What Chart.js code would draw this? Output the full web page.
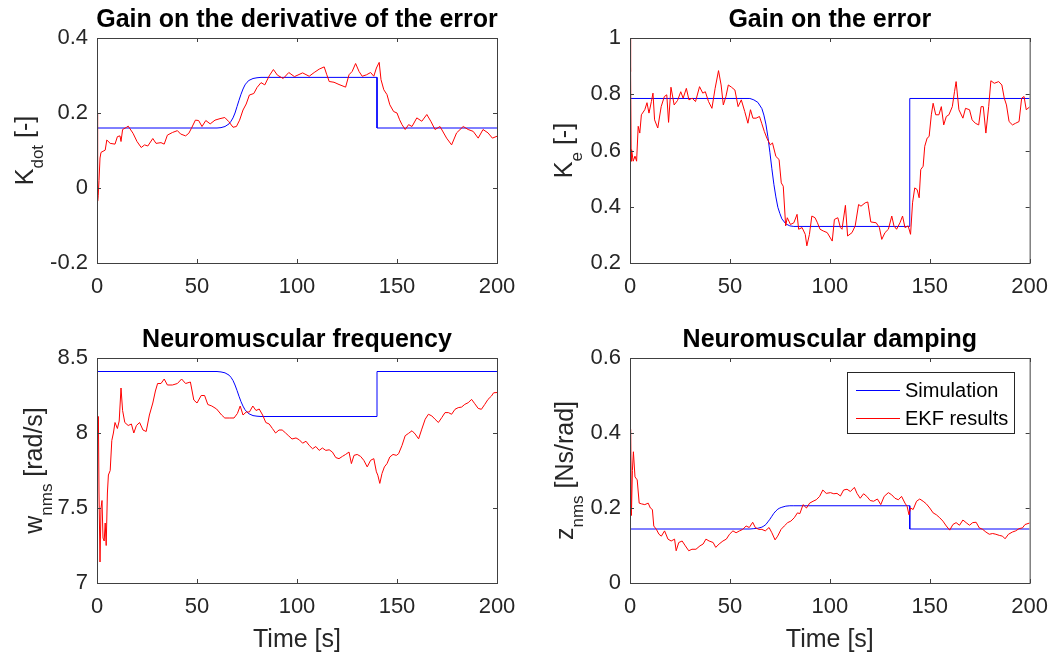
<!DOCTYPE html>
<html>
<head>
<meta charset="utf-8">
<title>EKF gain estimates</title>
<script src="https://cdn.jsdelivr.net/npm/chart.js@4.4.1/dist/chart.umd.min.js"></script>
<style>
  html, body { margin:0; padding:0; background:#fff; }
  #fig { position:relative; width:1059px; height:657px; overflow:hidden; background:#fff; }
  #fig canvas { position:absolute; }
</style>
</head>
<body>
<div id="fig">
  <canvas id="c-kdot" width="530" height="320" style="left:0;top:0;width:530px;height:320px"></canvas>
  <canvas id="c-ke"   width="529" height="320" style="left:530px;top:0;width:529px;height:320px"></canvas>
  <canvas id="c-wnms" width="530" height="337" style="left:0;top:320px;width:530px;height:337px"></canvas>
  <canvas id="c-znms" width="529" height="337" style="left:530px;top:320px;width:529px;height:337px"></canvas>
</div>
<script>
// ─── Data ─────────────────────────────────────────────────────

const timeTicks  = [0, 50, 100, 150, 200];
const timeLabels = ['0', '50', '100', '150', '200'];

// Gain on the derivative of the error
const kdotTicks  = [-0.2, 0, 0.2, 0.4];
const kdotLabels = ['-0.2', '0', '0.2', '0.4'];
const kdotSimT = [0, 60, 62, 64, 66, 67, 68, 69, 70, 71, 72, 73, 74, 75, 76, 78, 80, 82, 140, 140, 200];
const kdotSimV = [0.16, 0.16, 0.161, 0.164, 0.171, 0.178, 0.187, 0.2, 0.217, 0.234, 0.25, 0.264, 0.275, 0.282, 0.287, 0.292, 0.294, 0.295, 0.295, 0.16, 0.16];
const kdotEkfT = [0, 0.3, 0.6, 1, 1.5, 2, 4.1, 4.9, 6.6, 9, 10.2, 11.5, 12, 12.8, 14.8, 15.6, 18, 20, 22.1, 23.8,
  25.4, 27.9, 29.5, 32, 33.6, 35.2, 37.7, 40.2, 41.8, 44.3, 45.9, 47.2, 49.2, 50.8, 52.5, 54.4, 56.6, 59, 61.5, 63.9,
  65.9, 68, 69.7, 71.3, 73, 74.6, 76.2, 78.4, 80, 82, 83.9, 86.1, 88.2, 90.2, 93.1, 95.9, 98.7, 102.8, 106.1, 108.6,
  111.1, 113.6, 114.9, 116.1, 118.5, 121, 124.3, 126, 127.6, 129.3, 131, 132.6, 134.8, 136.8, 138.4, 139.7, 141.1, 142, 143.4, 145,
  146.4, 148.3, 150, 151.3, 152.5, 154.1, 155.8, 157.5, 159.9, 162.4, 164.9, 166.9, 169, 171.5, 174.8, 177.3, 179.8, 183.1, 185.6, 188.1,
  190.6, 193, 195.5, 197.7, 200];
const kdotEkfV = [0.2, -0.035, -0.02, 0.02, 0.08, 0.095, 0.101, 0.128, 0.119, 0.117, 0.137, 0.139, 0.124, 0.156, 0.162, 0.165, 0.146, 0.124, 0.108, 0.115,
  0.112, 0.132, 0.119, 0.121, 0.117, 0.141, 0.148, 0.153, 0.144, 0.139, 0.146, 0.159, 0.181, 0.18, 0.164, 0.18, 0.171, 0.181, 0.185, 0.188,
  0.177, 0.162, 0.164, 0.181, 0.208, 0.224, 0.248, 0.252, 0.268, 0.281, 0.275, 0.299, 0.316, 0.301, 0.292, 0.308, 0.297, 0.307, 0.298, 0.308,
  0.317, 0.323, 0.302, 0.284, 0.282, 0.276, 0.269, 0.302, 0.311, 0.332, 0.311, 0.298, 0.302, 0.308, 0.298, 0.32, 0.335, 0.289, 0.262, 0.249,
  0.222, 0.204, 0.2, 0.182, 0.169, 0.156, 0.169, 0.164, 0.187, 0.178, 0.196, 0.178, 0.156, 0.164, 0.133, 0.115, 0.147, 0.164, 0.156, 0.151,
  0.133, 0.156, 0.147, 0.133, 0.138];

// Gain on the error
const keTicks  = [0.2, 0.4, 0.6, 0.8, 1];
const keLabels = ['0.2', '0.4', '0.6', '0.8', '1'];
const keSimT = [0, 60, 62, 64, 66, 67, 68, 69, 70, 71, 72, 73, 74, 75, 76, 78, 80, 82, 140, 140, 200];
const keSimV = [0.785, 0.785, 0.78, 0.771, 0.749, 0.726, 0.694, 0.649, 0.594, 0.535, 0.48, 0.435, 0.398, 0.376, 0.357, 0.339, 0.332, 0.33, 0.33, 0.785, 0.785];
const keEkfT = [0, 0.3, 0.6, 0.8, 1.6, 2.5, 3.3, 4.1, 4.9, 5.7, 7.4, 8.5, 9.5, 10.7, 11.5, 12.3, 13.9, 15.6, 17.2, 18.4,
  19.3, 20.5, 22.1, 23.8, 25.4, 26.6, 28.2, 29.5, 31.1, 32.8, 34.8, 36.4, 37.7, 39.3, 41, 42.6, 44.3, 45.6, 46.7, 48,
  49.2, 50.8, 52.5, 54.1, 55.7, 57.4, 59, 60.3, 61.5, 63.1, 64.8, 65.9, 67.2, 68.5, 70.2, 71.3, 73, 74.6, 75.7, 76.7,
  77.9, 78.7, 80.3, 82, 83.6, 84.4, 86.1, 87.7, 88.5, 89.8, 91, 92.6, 93.8, 95.1, 96.7, 98.7, 101.2, 102.3, 104, 105.3,
  106.1, 107.8, 108.9, 111.1, 112.7, 114.4, 115.6, 117.7, 119, 120.5, 123.2, 124.8, 126, 127.6, 129.3, 131, 132.1, 133.4, 135.1, 136.4,
  137.6, 139.2, 140.4, 141.4, 142.5, 143.7, 144.7, 145.5, 146.7, 147.5, 148.7, 149.7, 150.8, 151.7, 153, 154.6, 155.8, 157, 158.3, 159.6,
  161.3, 162.4, 163.2, 164.6, 166.6, 167.9, 169.9, 171.2, 172.8, 174.5, 175.7, 176.8, 178.1, 179.5, 180.6, 182.3, 184.5, 186.1, 187.3, 188.4,
  189.7, 191.4, 193, 194.7, 196, 197.2, 198.3, 200];
const keEkfV = [1.0, 0.88, 0.562, 0.603, 0.562, 0.58, 0.562, 0.686, 0.662, 0.727, 0.745, 0.77, 0.733, 0.774, 0.804, 0.709, 0.68, 0.756, 0.792, 0.798,
  0.7, 0.825, 0.762, 0.778, 0.809, 0.786, 0.821, 0.78, 0.786, 0.774, 0.827, 0.804, 0.809, 0.774, 0.75, 0.821, 0.884, 0.833, 0.762, 0.792,
  0.833, 0.825, 0.815, 0.756, 0.78, 0.739, 0.697, 0.745, 0.715, 0.715, 0.721, 0.697, 0.668, 0.644, 0.62, 0.627, 0.579, 0.568, 0.485, 0.473,
  0.332, 0.361, 0.337, 0.343, 0.373, 0.32, 0.326, 0.302, 0.261, 0.302, 0.367, 0.361, 0.343, 0.32, 0.314, 0.308, 0.278, 0.355, 0.361, 0.326,
  0.32, 0.405, 0.296, 0.308, 0.332, 0.408, 0.402, 0.414, 0.417, 0.346, 0.343, 0.326, 0.284, 0.308, 0.32, 0.367, 0.332, 0.32, 0.343, 0.367,
  0.326, 0.332, 0.302, 0.414, 0.467, 0.461, 0.432, 0.532, 0.544, 0.615, 0.644, 0.65, 0.727, 0.768, 0.727, 0.727, 0.756, 0.691, 0.721, 0.727,
  0.756, 0.809, 0.845, 0.745, 0.715, 0.75, 0.745, 0.709, 0.697, 0.691, 0.756, 0.756, 0.662, 0.756, 0.848, 0.839, 0.845, 0.833, 0.786, 0.762,
  0.703, 0.691, 0.697, 0.703, 0.786, 0.792, 0.745, 0.755];

// Neuromuscular frequency
const wTicks  = [7, 7.5, 8, 8.5];
const wLabels = ['7', '7.5', '8', '8.5'];
const wSimT = [0, 60, 62, 64, 66, 67, 68, 69, 70, 71, 72, 73, 74, 75, 76, 78, 80, 82, 140, 140, 200];
const wSimV = [8.41, 8.41, 8.407, 8.401, 8.386, 8.371, 8.35, 8.32, 8.284, 8.245, 8.209, 8.179, 8.155, 8.14, 8.128, 8.116, 8.112, 8.11, 8.11, 8.41, 8.41];
const wEkfT = [0.3, 0.7, 1, 1.5, 2, 2.5, 3, 3.6, 4.1, 4.6, 5.2, 5.7, 6.6, 7.4, 8.2, 9, 10.2, 11.1, 12, 12.8,
  13.9, 15.6, 17.2, 18.4, 19.7, 21.3, 23, 24.6, 26.2, 27.9, 29.2, 30.3, 32, 33.6, 35.2, 37.7, 40.2, 42.3, 44.3, 46.7,
  48.4, 50, 52.1, 53.8, 55.4, 57.4, 59.8, 62.3, 63.9, 66.4, 68.5, 70.2, 71.6, 73, 74.6, 76.2, 77.9, 79.5, 81.1, 82.8,
  84.4, 86.1, 87.7, 89.3, 91, 92.6, 94.3, 95.9, 97.5, 99.5, 101.2, 102.8, 104.5, 106.1, 107.8, 109.4, 111.1, 112.7, 114.4, 116.1,
  117.7, 119.4, 121, 122.7, 124.3, 126, 127.2, 128.5, 130.1, 131.8, 133.4, 135.1, 136.8, 138.4, 139.7, 140.4, 141.4, 142.5, 143.7, 145,
  146.4, 148, 149.7, 150.8, 152.5, 154.1, 155.8, 157.5, 159.1, 160.8, 162.4, 164.1, 165.7, 167.4, 169, 170.7, 172.4, 174, 175.7, 177.3,
  179, 180.6, 182.3, 183.9, 185.6, 187.3, 188.9, 190.6, 192.2, 193.9, 195.5, 197.2, 198.3, 200];
const wEkfV = [8.0, 8.11, 7.6, 7.14, 7.5, 7.55, 7.3, 7.28, 7.4, 7.25, 7.6, 7.72, 7.75, 7.95, 8.0, 8.07, 8.03, 8.08, 8.3, 8.15,
  8.07, 8.05, 8.06, 8.0, 8.05, 8.07, 8.02, 8.01, 8.12, 8.2, 8.28, 8.33, 8.33, 8.36, 8.32, 8.32, 8.33, 8.36, 8.33, 8.34,
  8.22, 8.2, 8.25, 8.25, 8.19, 8.18, 8.16, 8.12, 8.1, 8.1, 8.1, 8.13, 8.18, 8.12, 8.14, 8.14, 8.18, 8.15, 8.16, 8.12,
  8.07, 8.06, 8.03, 8.0, 8.02, 8.02, 8.0, 7.98, 7.96, 7.967, 7.954, 7.932, 7.945, 7.917, 7.895, 7.91, 7.884, 7.9, 7.884, 7.888,
  7.873, 7.836, 7.829, 7.844, 7.857, 7.873, 7.796, 7.851, 7.857, 7.844, 7.818, 7.774, 7.818, 7.829, 7.741, 7.719, 7.664, 7.73, 7.774, 7.796,
  7.84, 7.857, 7.851, 7.862, 7.917, 7.982, 7.998, 8.015, 7.993, 7.961, 8.026, 8.092, 8.125, 8.114, 8.092, 8.07, 8.103, 8.136, 8.136, 8.125,
  8.158, 8.169, 8.173, 8.191, 8.202, 8.224, 8.195, 8.164, 8.158, 8.191, 8.224, 8.246, 8.268, 8.27];

// Neuromuscular damping
const zTicks  = [0, 0.2, 0.4, 0.6];
const zLabels = ['0', '0.2', '0.4', '0.6'];
const zSimT = [0, 60, 62, 64, 66, 67, 68, 69, 70, 71, 72, 73, 74, 75, 76, 78, 80, 82, 140, 140, 200];
const zSimV = [0.144, 0.144, 0.145, 0.146, 0.149, 0.152, 0.156, 0.163, 0.17, 0.178, 0.186, 0.192, 0.197, 0.2, 0.202, 0.205, 0.206, 0.206, 0.206, 0.144, 0.144];
const zEkfT = [0, 0.3, 0.7, 1.2, 1.7, 2.5, 3.6, 4.6, 5.8, 7.4, 9.1, 10.2, 11.2, 11.9, 13.2, 14.5, 15.7, 17.3, 19, 20.6,
  22.3, 23.1, 24.4, 26.1, 27.7, 29.4, 31, 33, 35, 36.6, 38, 39.6, 41.6, 42.9, 44.6, 46.5, 48.2, 49.8, 51.5, 53.1,
  54.8, 56.4, 58.1, 59.7, 61.4, 62.7, 64.4, 66, 67.7, 69.6, 71, 72.6, 73.9, 75.6, 77.2, 78.9, 80.5, 82.2, 83.8, 85,
  86.6, 88.3, 89.9, 91.6, 93.2, 94.9, 96.5, 98.2, 100.3, 102, 103.6, 105.3, 106.9, 108.6, 110.3, 112.3, 113.6, 115.2, 116.9, 118.5,
  120.2, 121.9, 123.8, 125.5, 127.2, 129.3, 131, 132.6, 134.3, 135.9, 137.6, 138.7, 139.6, 140.4, 141.7, 143.4, 145, 146.7, 148.3, 150,
  151.7, 153.3, 155, 156.6, 158.3, 160, 161.6, 163.2, 164.9, 166.6, 168.2, 169.9, 171.5, 173.2, 174.8, 176.5, 178.1, 179.8, 181.5, 183.1,
  184.8, 186.4, 187.7, 189.4, 191.4, 193, 194.7, 196.4, 197.7, 200];
const zEkfV = [0.3, 0.41, 0.18, 0.3, 0.35, 0.283, 0.275, 0.213, 0.211, 0.209, 0.213, 0.2, 0.196, 0.152, 0.143, 0.13, 0.125, 0.139, 0.117, 0.112,
  0.117, 0.086, 0.108, 0.112, 0.099, 0.086, 0.09, 0.09, 0.099, 0.104, 0.117, 0.112, 0.108, 0.095, 0.104, 0.112, 0.117, 0.13, 0.139, 0.134,
  0.139, 0.143, 0.152, 0.148, 0.162, 0.148, 0.143, 0.143, 0.139, 0.148, 0.134, 0.115, 0.125, 0.143, 0.152, 0.161, 0.165, 0.174, 0.187, 0.185,
  0.209, 0.2, 0.213, 0.218, 0.222, 0.231, 0.248, 0.239, 0.241, 0.238, 0.239, 0.232, 0.248, 0.25, 0.244, 0.255, 0.239, 0.226, 0.238, 0.231,
  0.22, 0.218, 0.224, 0.209, 0.231, 0.241, 0.235, 0.226, 0.222, 0.231, 0.213, 0.204, 0.182, 0.2, 0.196, 0.218, 0.224, 0.218, 0.211, 0.2,
  0.187, 0.182, 0.174, 0.165, 0.152, 0.141, 0.156, 0.161, 0.154, 0.168, 0.161, 0.154, 0.161, 0.162, 0.147, 0.143, 0.136, 0.13, 0.132, 0.13,
  0.127, 0.125, 0.118, 0.13, 0.136, 0.139, 0.145, 0.147, 0.156, 0.16];

const seriesNames = ['Simulation', 'EKF results'];

// ─── Styling ──────────────────────────────────────────────────

const FONT  = '"Liberation Sans", Arial, Helvetica, sans-serif';
const INK   = '#262626';
const FRAME = '#404040';
const BLUE  = '#0000ff';
const RED   = '#ff0000';

Chart.defaults.font.family = FONT;
Chart.defaults.color = INK;

const pts = (ts, vs) => ts.map((t, i) => ({ x: t, y: vs[i] }));

// ── Axes decoration: box, inward ticks, title, labels, legend ─

function decor(spec) {
  return {
    id: 'decor',
    afterDraw(chart) {
      const { ctx, chartArea: a, scales } = chart;
      const L = a.left, R = a.right, T = a.top, B = a.bottom;
      ctx.save();

      // frame + inward ticks (MATLAB box on)
      ctx.strokeStyle = FRAME;
      ctx.lineWidth = 1;
      ctx.strokeRect(L + 0.5, T + 0.5, R - L, B - T);
      ctx.beginPath();
      scales.x.ticks.forEach(tk => {
        const px = Math.round(scales.x.getPixelForValue(tk.value)) + 0.5;
        ctx.moveTo(px, B); ctx.lineTo(px, B - 4);
        ctx.moveTo(px, T); ctx.lineTo(px, T + 4);
      });
      scales.y.ticks.forEach(tk => {
        const py = Math.round(scales.y.getPixelForValue(tk.value)) + 0.5;
        ctx.moveTo(L, py); ctx.lineTo(L + 4, py);
        ctx.moveTo(R, py); ctx.lineTo(R - 4, py);
      });
      ctx.stroke();

      const cx = (L + R) / 2, cy = (T + B) / 2;

      // title
      ctx.fillStyle = '#000';
      ctx.font = 'bold 25px ' + FONT;
      ctx.textAlign = 'center';
      ctx.textBaseline = 'alphabetic';
      ctx.fillText(spec.title, cx, 27);

      // x label
      if (spec.xlabel) {
        ctx.fillStyle = INK;
        ctx.font = '25px ' + FONT;
        ctx.fillText(spec.xlabel, cx, B + 64);
      }

      // y label with subscript, rotated
      ctx.fillStyle = INK;
      ctx.textAlign = 'left';
      const parts = [[spec.yMain, 25, 0], [spec.ySub, 17, 10], [spec.yUnit, 25, 0]];
      let total = 0;
      parts.forEach(p => { ctx.font = p[1] + 'px ' + FONT; p.push(ctx.measureText(p[0]).width); total += p[3]; });
      ctx.translate(spec.yLabelX, cy);
      ctx.rotate(-Math.PI / 2);
      let pos = -total / 2;
      parts.forEach(p => {
        ctx.font = p[1] + 'px ' + FONT;
        ctx.fillText(p[0], pos, p[2]);
        pos += p[3];
      });
      ctx.setTransform(1, 0, 0, 1, 0, 0);

      // legend
      if (spec.legend) {
        const bx = 317, by = 52, bw = 167, bh = 61;
        ctx.fillStyle = '#fff';
        ctx.fillRect(bx, by, bw, bh);
        ctx.strokeStyle = INK;
        ctx.strokeRect(bx + 0.5, by + 0.5, bw, bh);
        const rows = [[seriesNames[0], BLUE, 70], [seriesNames[1], RED, 98]];
        ctx.font = '20px ' + FONT;
        ctx.textBaseline = 'middle';
        rows.forEach(r => {
          ctx.strokeStyle = r[1];
          ctx.beginPath();
          ctx.moveTo(326, r[2] + 0.5); ctx.lineTo(370, r[2] + 0.5);
          ctx.stroke();
          ctx.fillStyle = '#000';
          ctx.fillText(r[0], 375, r[2] + 1);
        });
      }
      ctx.restore();
    }
  };
}

// ── Chart factory ─────────────────────────────────────────────

function buildChart(id, spec) {
  return new Chart(document.getElementById(id), {
    type: 'line',
    data: {
      datasets: [
        { label: seriesNames[1], data: pts(spec.ekfT, spec.ekfV), borderColor: RED,  borderWidth: 1, pointRadius: 0, tension: 0, order: 0 },
        { label: seriesNames[0], data: pts(spec.simT, spec.simV), borderColor: BLUE, borderWidth: 1, pointRadius: 0, tension: 0, order: 1 },
      ],
    },
    options: {
      responsive: false,
      animation: false,
      devicePixelRatio: 1,
      events: [],
      layout: { padding: { top: 38, right: spec.padRight, left: 0, bottom: 0 } },
      plugins: { legend: { display: false }, title: { display: false }, tooltip: { enabled: false } },
      scales: {
        x: {
          type: 'linear', min: 0, max: 200,
          grid: { display: false, drawTicks: false }, border: { display: false },
          afterBuildTicks: s => { s.ticks = timeTicks.map(v => ({ value: v })); },
          afterFit: s => { s.height = spec.xAxisH; },
          ticks: { font: { size: 22 }, color: INK, padding: 11, maxRotation: 0, autoSkip: false,
                   callback: (v, i) => timeLabels[i] },
        },
        y: {
          type: 'linear', min: spec.yMin, max: spec.yMax,
          grid: { display: false, drawTicks: false }, border: { display: false },
          afterBuildTicks: s => { s.ticks = spec.yTicks.map(v => ({ value: v })); },
          afterFit: s => { s.width = spec.yAxisW; },
          ticks: { font: { size: 22 }, color: INK, padding: 9, autoSkip: false,
                   callback: (v, i) => spec.yLabels[i] },
        },
      },
    },
    plugins: [decor(spec)],
  });
}

buildChart('c-kdot', {
  title: 'Gain on the derivative of the error', yMain: 'K', ySub: 'dot', yUnit: ' [-]', yLabelX: 33,
  yMin: -0.2, yMax: 0.4, yTicks: kdotTicks, yLabels: kdotLabels,
  simT: kdotSimT, simV: kdotSimV, ekfT: kdotEkfT, ekfV: kdotEkfV,
  yAxisW: 97, padRight: 33, xAxisH: 57,
});

buildChart('c-ke', {
  title: 'Gain on the error', yMain: 'K', ySub: 'e', yUnit: ' [-]', yLabelX: 42,
  yMin: 0.2, yMax: 1, yTicks: keTicks, yLabels: keLabels,
  simT: keSimT, simV: keSimV, ekfT: keEkfT, ekfV: keEkfV,
  yAxisW: 100, padRight: 29, xAxisH: 57,
});

buildChart('c-wnms', {
  title: 'Neuromuscular frequency', yMain: 'w', ySub: 'nms', yUnit: ' [rad/s]', yLabelX: 42,
  yMin: 7, yMax: 8.5, yTicks: wTicks, yLabels: wLabels,
  simT: wSimT, simV: wSimV, ekfT: wEkfT, ekfV: wEkfV, xlabel: 'Time [s]',
  yAxisW: 97, padRight: 33, xAxisH: 74,
});

buildChart('c-znms', {
  title: 'Neuromuscular damping', yMain: 'z', ySub: 'nms', yUnit: ' [Ns/rad]', yLabelX: 43,
  yMin: 0, yMax: 0.6, yTicks: zTicks, yLabels: zLabels,
  simT: zSimT, simV: zSimV, ekfT: zEkfT, ekfV: zEkfV, xlabel: 'Time [s]', legend: true,
  yAxisW: 100, padRight: 29, xAxisH: 74,
});
</script>
</body>
</html>
